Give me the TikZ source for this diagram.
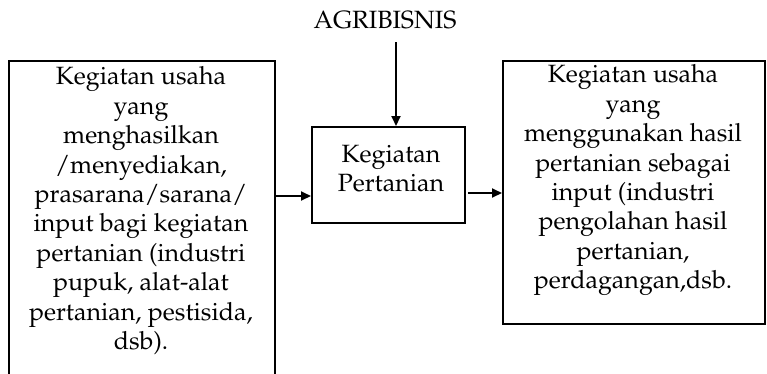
\documentclass[tikz,border=0pt]{standalone}
\usepackage[T1]{fontenc}
\usepackage{mathpazo}
\usetikzlibrary{arrows.meta}
\begin{document}
\begin{tikzpicture}[x=1pt,y=-1pt,
  box/.style={draw, line width=1.8pt, inner sep=0pt, anchor=north west},
  txt/.style={font=\fontsize{25}{29.4}\selectfont, align=center, inner sep=0pt, anchor=north},
  arr/.style={line width=1.8pt, -{Triangle[length=10pt,width=9pt]}}]
\useasboundingbox (0,0) rectangle (767,373);
\clip (0,0) rectangle (767,373);
\node[box, minimum width=266pt, minimum height=340pt] (L) at (8,60) {};
\node[box, minimum width=153pt, minimum height=96pt] (C) at (311,126) {};
\node[box, minimum width=262pt, minimum height=263pt] (R) at (502,60) {};
\node[txt, anchor=base] (T) at (385,28) {AGRIBISNIS};
\node[txt] (Lt) at (141,66.7) {Kegiatan usaha\\yang\\menghasilkan\\/menyediakan,\\prasarana/sarana/\\input bagi kegiatan\\pertanian (industri\\pupuk, alat-alat\\pertanian, pestisida,\\dsb).};
\node[txt] (Ct) at (391,144.7) {Kegiatan\\Pertanian};
\node[txt] (Rt) at (633,64.7) {Kegiatan usaha\\yang\\menggunakan hasil\\pertanian sebagai\\input (industri\\pengolahan hasil\\pertanian,\\perdagangan,dsb.};
\coordinate (topA) at (396,42);
\draw[arr] (topA) -- (topA |- C.north);
\draw[arr] (L.east |- 0,196) -- (C.west |- 0,196);
\draw[arr, shorten <=2pt] (C.east |- 0,193) -- (R.west |- 0,193);
\end{tikzpicture}
\end{document}
